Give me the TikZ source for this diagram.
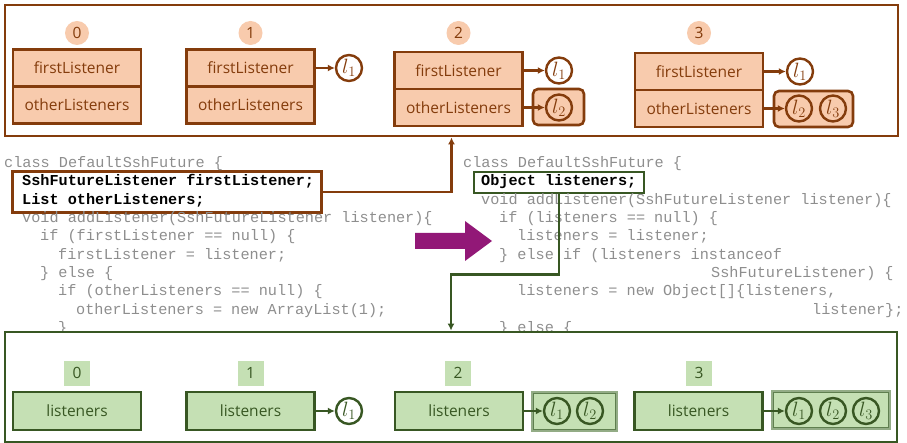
\documentclass[tikz,border=0pt]{standalone}
\usepackage{fontspec}
\setmainfont{Open Sans}
\newfontfamily\codefont{Liberation Mono}
\usetikzlibrary{arrows.meta,calc}
\definecolor{brn}{HTML}{843C0C}
\definecolor{peach}{HTML}{F8CBAD}
\definecolor{grn}{HTML}{385723}
\definecolor{mint}{HTML}{C5E0B4}
\definecolor{codegray}{HTML}{8E8E8E}
\definecolor{plum}{HTML}{921877}
\definecolor{arredge}{HTML}{93AC86}
\definecolor{arrinner}{HTML}{5F7F4F}
\newcommand{\lsub}[1]{$l_{#1}$}

\begin{document}
\begin{tikzpicture}[x=1pt,y=-1pt,
  lbl/.style={font=\fontsize{15.5pt}{18pt}\selectfont},
  itm/.style={font=\fontsize{20pt}{22pt}\selectfont},
  panel/.style={draw=#1, line width=2.8pt, inner sep=0pt, fill=white},
  ocell/.style={draw=brn, fill=peach, line width=2.6pt, minimum width=128pt,
    minimum height=37pt, inner sep=0pt, text=brn, lbl},
  gcell/.style={draw=grn, fill=mint, line width=2.8pt, minimum width=128pt,
    minimum height=38pt, inner sep=0pt, text=grn, lbl},
  onum/.style={circle, fill=peach, minimum size=24pt, inner sep=0pt, text=brn, lbl},
  gnum/.style={rectangle, fill=mint, minimum width=26pt, minimum height=25pt,
    inner sep=0pt, text=grn, lbl},
  oitem/.style={circle, draw=brn, line width=2.4pt, minimum size=26pt, inner sep=0pt,
    text=brn, itm},
  gitem/.style={circle, draw=grn, line width=2.4pt, minimum size=26pt, inner sep=0pt,
    text=grn, itm},
  olist/.style={draw=brn, fill=peach, line width=2.6pt, rounded corners=5pt, inner sep=0pt},
  glist/.style={draw=arredge, fill=mint, line width=1.8pt, inner sep=0pt},
  oconn/.style={draw=brn, line width=2.4pt, -{Latex[length=7pt,width=7pt]}},
  gconn/.style={draw=grn, line width=2.4pt, -{Latex[length=7pt,width=7pt]}},
  codeline/.style={anchor=west, inner sep=0pt, text height=11pt, text depth=3pt,
    font=\codefont\fontsize{15.2pt}{18pt}\selectfont, text=codegray},
  hot/.style={codeline, text=black, font=\codefont\bfseries\fontsize{15.2pt}{18pt}\selectfont},
  hlbox/.style={draw=#1, fill=white, line width=2.8pt, inner sep=0pt}
]
\useasboundingbox (0,0) rectangle (907,443);

% ---------- upper panel: two-field layout ----------
\node[panel=brn, minimum width=893pt, minimum height=131pt] (toppanel) at (451.5,70.5) {};

\node[onum] (n0) at (77,33) {0};
\node[onum] (n1) at (250.5,33) {1};
\node[onum] (n2) at (458.5,33) {2};
\node[onum] (n3) at (699,33) {3};

\node[ocell] (t0a) at (77,68) {firstListener};
\node[ocell] (t0b) at (77,105) {otherListeners};

\node[ocell] (t1a) at (250.5,68) {firstListener};
\node[ocell] (t1b) at (250.5,105) {otherListeners};
\node[oitem] (t1l1) at (349,68) {\lsub{1}};
\draw[oconn] (t1a) -- (t1l1);

\node[ocell] (t2a) at (458.5,70.5) {firstListener};
\node[ocell] (t2b) at (458.5,107.5) {otherListeners};
\node[oitem] (t2l1) at (559,70.5) {\lsub{1}};
\node[olist, minimum width=51pt, minimum height=36pt] (t2list) at (558.5,107) {};
\node[oitem] (t2l2) at (559,107.5) {\lsub{2}};
\draw[oconn] (t2a) -- (t2l1);
\draw[oconn] (t2b) -- (t2l2);

\node[ocell] (t3a) at (699,71.5) {firstListener};
\node[ocell] (t3b) at (699,108.5) {otherListeners};
\node[oitem] (t3l1) at (800,71.5) {\lsub{1}};
\node[olist, minimum width=79pt, minimum height=36pt] (t3list) at (813.5,109) {};
\node[oitem] (t3l2) at (799,108.5) {\lsub{2}};
\node[oitem] (t3l3) at (833,108.5) {\lsub{3}};
\draw[oconn] (t3a) -- (t3l1);
\draw[oconn] (t3b) -- (t3l2);

% ---------- source code, old version ----------
\node[hlbox=brn, minimum width=309pt, minimum height=41pt] (lbox) at (167.2,192.2) {};
\node[codeline] (c1) at (4,164) {class DefaultSshFuture \{};
\node[hot] (c2) at (22,182) {SshFutureListener firstListener;};
\node[hot] (c3) at (22,200.5) {List otherListeners;};
\node[codeline] (c4) at (22,219) {void addListener(SshFutureListener listener)\{};
\node[codeline] (c5) at (40,237) {if (firstListener == null) \{};
\node[codeline] (c6) at (58,256) {firstListener = listener;};
\node[codeline] (c7) at (40,274) {\} else \{};
\node[codeline] (c8) at (58,292) {if (otherListeners == null) \{};
\node[codeline] (c9) at (76,311) {otherListeners = new ArrayList(1);};
\node[codeline] (c10) at (58,329) {\}};

% ---------- source code, new version ----------
\node[hlbox=grn, minimum width=170pt, minimum height=21pt] (rbox) at (559,182.5) {};
\node[codeline] (d1) at (463,164) {class DefaultSshFuture \{};
\node[hot] (d2) at (481,182) {Object listeners;};
\node[codeline] (d3) at (481,200.5) {void addListener(SshFutureListener listener)\{};
\node[codeline] (d4) at (499,219) {if (listeners == null) \{};
\node[codeline] (d5) at (517,237) {listeners = listener;};
\node[codeline] (d6) at (499,256) {\} else if (listeners instanceof};
\node[codeline] (d7) at (711,274) {SshFutureListener) \{};
\node[codeline] (d8) at (517,292) {listeners = new Object[]\{listeners,};
\node[codeline] (d9) at (812,311) {listener\};};
\node[codeline] (d10) at (499,329) {\} else \{};

% refactoring arrow
\fill[plum] (415,233) -- (465,233) -- (465,221) -- (492,241) -- (465,261)
  -- (465,249) -- (415,249) -- cycle;

% ---------- lower panel: single-field layout ----------
\node[panel=grn, minimum width=892pt, minimum height=110pt] (botpanel) at (451,387) {};

\draw[oconn] (lbox.east) -| (toppanel.south);
\draw[gconn] (rbox.south) -- ++(0,80) -| (botpanel.north);

\node[gnum] (m0) at (77,373) {0};
\node[gnum] (m1) at (250.5,373) {1};
\node[gnum] (m2) at (458,373) {2};
\node[gnum] (m3) at (699,373) {3};

\node[gcell] (b0) at (77,411) {listeners};

\node[gcell] (b1) at (250.5,411) {listeners};
\node[gitem] (b1l1) at (349,411) {\lsub{1}};
\draw[gconn] (b1) -- (b1l1);

\node[gcell] (b2) at (459,411) {listeners};
\node[glist, minimum width=85pt, minimum height=39pt] (b2list) at (574.5,411.5) {};
\draw[arrinner, line width=0.7pt] ($(b2list.north west)+(2.5,2.5)$) rectangle ($(b2list.south east)+(-2.5,-2.5)$);
\node[gitem] (b2l1) at (557,411) {\lsub{1}};
\node[gitem] (b2l2) at (590,411) {\lsub{2}};
\draw[gconn] (b2) -- (b2l1);

\node[gcell] (b3) at (698.5,411) {listeners};
\node[glist, minimum width=118pt, minimum height=38pt] (b3list) at (831,410) {};
\draw[arrinner, line width=0.7pt] ($(b3list.north west)+(2.5,2.5)$) rectangle ($(b3list.south east)+(-2.5,-2.5)$);
\node[gitem] (b3l1) at (799,411) {\lsub{1}};
\node[gitem] (b3l2) at (833,411) {\lsub{2}};
\node[gitem] (b3l3) at (866,411) {\lsub{3}};
\draw[gconn] (b3) -- (b3l1);
\end{tikzpicture}
\end{document}
